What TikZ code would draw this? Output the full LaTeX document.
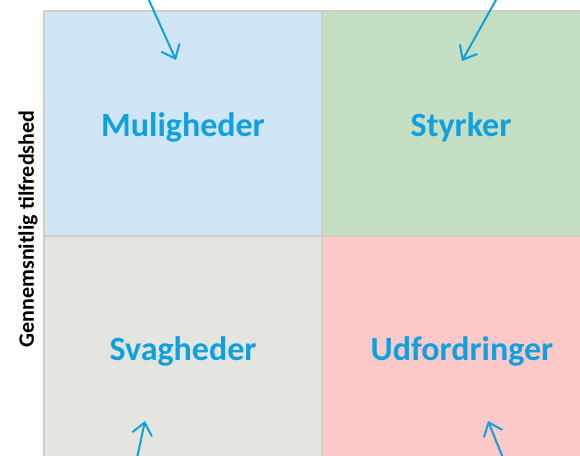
\documentclass[tikz,border=0pt]{standalone}
\usepackage{fontspec}
\setmainfont{Carlito}
\usetikzlibrary{arrows.meta}
\definecolor{qblue}{HTML}{D0E6F6}
\definecolor{qgreen}{HTML}{C5DFC2}
\definecolor{qgray}{HTML}{E5E5E0}
\definecolor{qred}{HTML}{FDC9C8}
\definecolor{qline}{HTML}{CFCFC6}
\definecolor{qtext}{HTML}{0FA0E0}
\tikzset{
  quad/.style={draw=qline, line width=2pt},
  qlabel/.style={text=qtext, font=\fontsize{34}{38}\selectfont\bfseries},
  qarrow/.style={draw=qtext, line width=2pt, -{Straight Barb[length=12pt,width=20pt,line width=2pt]}},
}
\begin{document}
\begin{tikzpicture}[x=1pt,y=-1pt]
\useasboundingbox (0,0) rectangle (580,455);
\begin{scope}
\clip (0,0) rectangle (580,455);
\filldraw[quad, fill=qblue] (44,11) rectangle (322,236);
\filldraw[quad, fill=qgreen] (322,11) rectangle (600,236);
\filldraw[quad, fill=qgray] (44,236) rectangle (322,470);
\filldraw[quad, fill=qred] (322,236) rectangle (600,470);
\node[qlabel] (mul) at (183,127) {Muligheder};
\node[qlabel] (sty) at (461,127) {Styrker};
\node[qlabel] (sva) at (183,351) {Svagheder};
\node[qlabel] (udf) at (462,351) {Udfordringer};
\node[rotate=90, font=\fontsize{22}{26}\selectfont\bfseries] (axis) at (28,229) {Gennemsnitlig tilfredshed};
\coordinate (a1s) at (148,-2);
\coordinate (a1e) at (176,60);
\coordinate (a2s) at (497,-2);
\coordinate (a2e) at (462,61);
\coordinate (a3s) at (137,458);
\coordinate (a3e) at (145,421);
\coordinate (a4s) at (503,458);
\coordinate (a4e) at (488,421);
\draw[qarrow] (a1s) -- (a1e);
\draw[qarrow] (a2s) -- (a2e);
\draw[qarrow] (a3s) -- (a3e);
\draw[qarrow] (a4s) -- (a4e);
\end{scope}
\end{tikzpicture}
\end{document}
